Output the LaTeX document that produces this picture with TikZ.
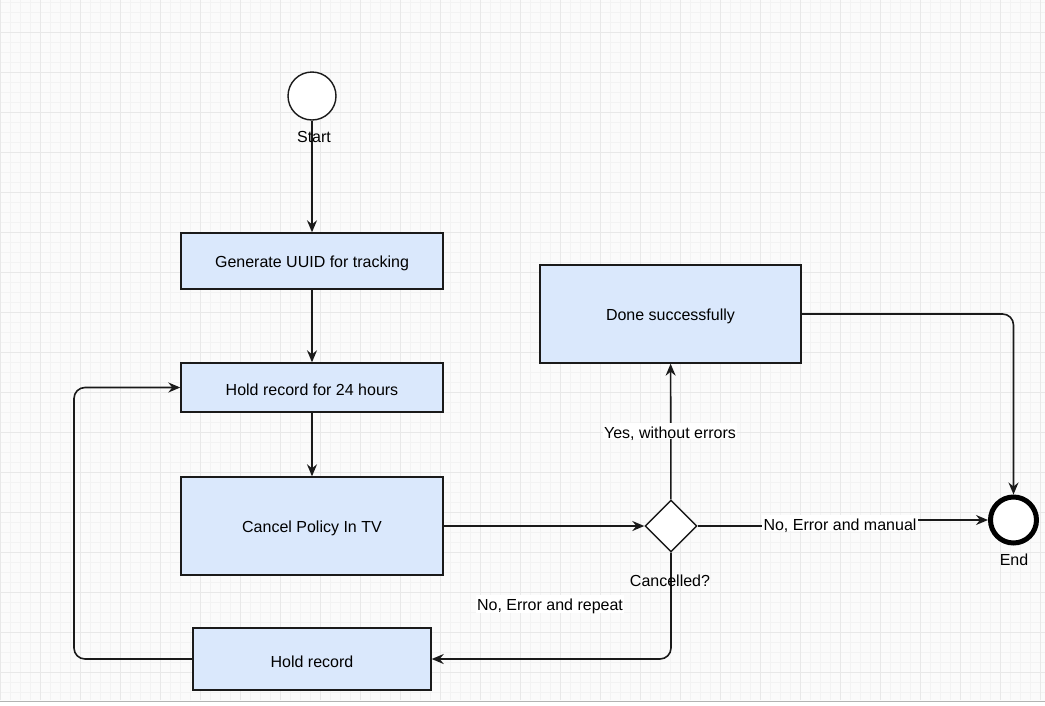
\documentclass[tikz,border=0pt]{standalone}
\usepackage{fontspec}
\setmainfont{Liberation Sans}
\usetikzlibrary{shapes.geometric,arrows.meta}
\definecolor{boxfill}{HTML}{DAE8FC}
\definecolor{linec}{HTML}{1A1A1A}
\definecolor{gridminor}{HTML}{F3F3F3}
\definecolor{gridmajor}{HTML}{E8E8E8}
\definecolor{bgc}{HTML}{FBFBFB}
\newcommand{\bt}[1]{\raisebox{-2.5pt}[\height][\depth]{#1}}
\tikzset{
  box/.style={draw=linec, line width=1.4pt, fill=boxfill, rectangle, inner sep=0pt, font=\fontsize{16}{19}\selectfont},
  conn/.style={draw=linec, line width=1.6pt, -{Stealth[length=12pt,width=10pt,inset=4pt]}},
  lbl/.style={font=\fontsize{16}{19}\selectfont, inner sep=1.5pt},
  elbl/.style={lbl, fill=white},
}
\begin{document}
\begin{tikzpicture}[x=1pt,y=-1pt]
\useasboundingbox (0,0) rectangle (1045,705);
\fill[bgc] (0,0) rectangle (1045,705);
\foreach \x in {0,10,...,1040} \draw[gridminor, line width=0.8pt] (\x,0) -- (\x,700);
\foreach \y in {2,12,...,700} \draw[gridminor, line width=0.8pt] (0,\y) -- (1045,\y);
\foreach \x in {0,40,...,1040} \draw[gridmajor, line width=0.9pt] (\x,0) -- (\x,700);
\foreach \y in {32,72,...,700} \draw[gridmajor, line width=0.9pt] (0,\y) -- (1045,\y);
\fill[white] (0,701) rectangle (1045,705);
\draw[gray!60, line width=1pt] (0,701) -- (1045,701);

\node[circle, draw=linec, line width=1.4pt, fill=white, minimum size=48pt, inner sep=0pt] (start) at (312,96) {};
\node[circle, draw=black, line width=5pt, fill=white, minimum size=46pt, inner sep=0pt] (end) at (1013.5,520) {};
\node[box, minimum width=262pt, minimum height=56pt] (uuid) at (312,261) {\bt{Generate UUID for tracking}};
\node[box, minimum width=262pt, minimum height=49pt] (hold24) at (312,387.5) {\bt{Hold record for 24 hours}};
\node[box, minimum width=262pt, minimum height=98pt] (cancel) at (312,526) {\bt{Cancel Policy In TV}};
\node[box, minimum width=261pt, minimum height=98pt] (done) at (670.5,314) {\bt{Done successfully}};
\node[box, minimum width=238pt, minimum height=62pt] (hold) at (312,659) {\bt{Hold record}};
\node[diamond, draw=linec, line width=1.4pt, fill=white, minimum width=52pt, minimum height=52pt, inner sep=0pt] (dec) at (671,526) {};

\coordinate (lx) at (74,0);
\coordinate (mx) at (840,0);

\draw[conn] (start) -- (uuid);
\draw[conn] (uuid) -- (hold24);
\draw[conn] (hold24) -- (cancel);
\draw[conn] (cancel) -- (dec);
\draw[conn] (dec) -- (done);
\draw[conn, rounded corners=11pt] (done.east) -- (end.north |- done.east) -- (end.north);
\draw[conn, rounded corners=11pt] (dec.south) -- (dec.south |- hold.east) -- (hold.east);
\draw[conn, rounded corners=11pt] (hold.west) -- (lx |- hold.west) -- (lx |- hold24.west) -- (hold24.west);
\draw[conn] (dec.east) -- (mx |- dec.east) -- (mx |- end.west) -- (end.west);

\node[lbl] (startl) at (314,134) {\bt{Start}};
\node[lbl] (endl) at (1014,557.5) {\bt{End}};
\node[lbl] (decl) at (670,578.5) {\bt{Cancelled?}};
\node[elbl] (yesl) at (670,431) {\bt{Yes, without errors}};
\node[elbl] (manl) at (840,523) {\bt{No, Error and manual}};
\node[elbl] (repl) at (550,604) {\bt{No, Error and repeat}};
\end{tikzpicture}
\end{document}
